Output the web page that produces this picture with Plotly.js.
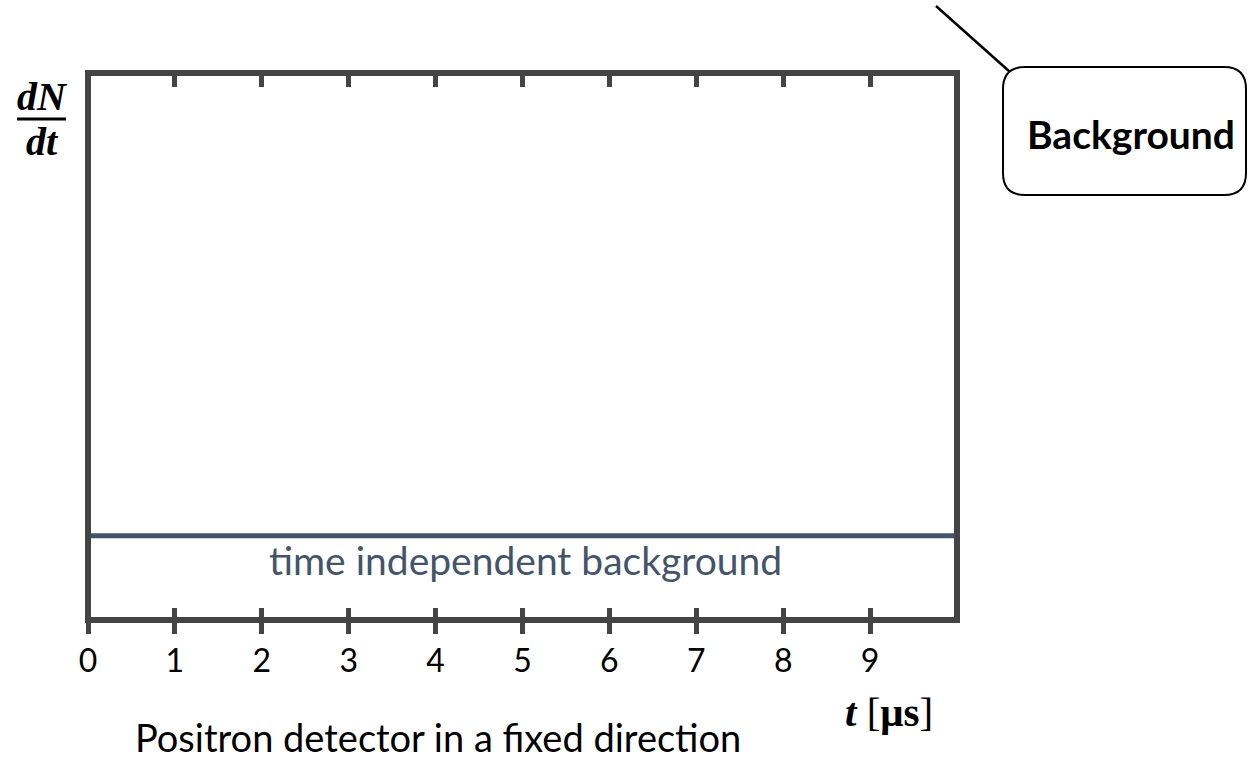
<!DOCTYPE html>
<html>
<head>
<meta charset="utf-8">
<script src="https://cdn.plot.ly/plotly-3.0.1.min.js"></script>
<style>html,body{margin:0;padding:0;background:#fff;}#chart{width:1248px;height:762px;}</style>
</head>
<body>
<div id="chart"></div>
<script>
// ---- data ----
const tickValues = [0, 1, 2, 3, 4, 5, 6, 7, 8, 9];
const tickLabels = ["0", "1", "2", "3", "4", "5", "6", "7", "8", "9"];
const timeRange = [0, 10];
const backgroundTime = [0, 10];
const backgroundLevel = [0.154, 0.154];
const backgroundLabel = "time independent background";
const xTitle = "<b><i>t</i></b> [<b>μs</b>]";
const yTitleTop = "<b><i>dN</i></b>";
const yTitleBottom = "<b><i>dt</i></b>";
const caption = "Positron detector in a fixed direction";
const calloutText = "<b>Background</b>";

// ---- layout helpers (pixel -> paper) ----
const W = 1248, H = 762;
const L = 88, R = 957, T = 73, B = 620;
const px = v => (v - L) / (R - L);
const py = v => (B - v) / (B - T);

function roundRect(x0, y0, x1, y1, r) {
  const a = px(x0), b = px(x1), c = py(y0), d = py(y1);
  const rx = r / (R - L), ry = r / (B - T);
  return `M ${a + rx},${c} L ${b - rx},${c} Q ${b},${c} ${b},${c - ry} L ${b},${d + ry} Q ${b},${d} ${b - rx},${d} L ${a + rx},${d} Q ${a},${d} ${a},${d + ry} L ${a},${c - ry} Q ${a},${c} ${a + rx},${c} Z`;
}

const frameColor = '#444444';
const bgColor = '#44546a';
const serif = '"Liberation Serif", "DejaVu Serif", serif';
const sans = 'Lato, "Open Sans", sans-serif';

const traces = [
  {
    x: backgroundTime, y: backgroundLevel, type: 'scatter', mode: 'lines',
    line: {color: bgColor, width: 5}, hoverinfo: 'skip', showlegend: false, cliponaxis: false
  },
  { x: timeRange, y: [0, 0], xaxis: 'x2', type: 'scatter', mode: 'none', hoverinfo: 'skip', showlegend: false },
  { x: timeRange, y: [0, 0], xaxis: 'x3', type: 'scatter', mode: 'none', hoverinfo: 'skip', showlegend: false }
];

const baseAxis = {
  range: timeRange, tickvals: tickValues, ticktext: tickLabels,
  showgrid: false, zeroline: false, fixedrange: true, showline: false
};

const layout = {
  width: W, height: H,
  margin: {l: L, r: W - R, t: T, b: H - B, pad: 0},
  paper_bgcolor: '#ffffff', plot_bgcolor: '#ffffff',
  font: {family: sans, color: '#000000'},
  showlegend: false,
  xaxis: Object.assign({}, baseAxis, {
    ticks: 'outside', ticklen: 13, tickwidth: 5, tickcolor: frameColor,
    tickfont: {size: 32, color: '#000000', family: sans}
  }),
  xaxis2: Object.assign({}, baseAxis, {
    overlaying: 'x', anchor: 'y', side: 'bottom',
    ticks: 'inside', ticklen: 12, tickwidth: 5, tickcolor: frameColor,
    showticklabels: false
  }),
  xaxis3: Object.assign({}, baseAxis, {
    overlaying: 'x', anchor: 'y', side: 'top',
    ticks: 'inside', ticklen: 14, tickwidth: 5, tickcolor: frameColor,
    showticklabels: false
  }),
  yaxis: {
    range: [0, 1], showgrid: false, zeroline: false, ticks: '', showticklabels: false,
    showline: false, fixedrange: true
  },
  annotations: [
    { x: 5.03, y: 0.11, xref: 'x', yref: 'y', text: backgroundLabel, showarrow: false,
      font: {size: 39, color: bgColor, family: sans}, xanchor: 'center', yanchor: 'middle' },
    { x: px(889), y: py(712), xref: 'paper', yref: 'paper', text: xTitle, showarrow: false,
      font: {size: 41, color: '#000000', family: serif}, xanchor: 'center', yanchor: 'middle' },
    { x: px(42), y: py(97), xref: 'paper', yref: 'paper', text: yTitleTop, showarrow: false,
      font: {size: 40, color: '#000000', family: serif}, xanchor: 'center', yanchor: 'middle' },
    { x: px(42), y: py(141), xref: 'paper', yref: 'paper', text: yTitleBottom, showarrow: false,
      font: {size: 40, color: '#000000', family: serif}, xanchor: 'center', yanchor: 'middle' },
    { x: px(133), y: py(762), xref: 'paper', yref: 'paper', text: caption, showarrow: false,
      font: {size: 38, color: '#000000', family: sans}, xanchor: 'left', yanchor: 'bottom' },
    { x: px(1131), y: py(134), xref: 'paper', yref: 'paper', text: calloutText, showarrow: false,
      font: {size: 39, color: '#000000', family: sans}, xanchor: 'center', yanchor: 'middle' }
  ],
  shapes: [
    { type: 'rect', xref: 'paper', yref: 'paper', x0: 0, x1: 1, y0: 0, y1: 1,
      line: {color: frameColor, width: 6}, fillcolor: 'rgba(0,0,0,0)', layer: 'above' },
    { type: 'line', xref: 'paper', yref: 'paper', x0: px(17), x1: px(66), y0: py(119), y1: py(119),
      line: {color: '#000000', width: 3} },
    { type: 'path', xref: 'paper', yref: 'paper', path: roundRect(1003, 67, 1246, 195, 22),
      line: {color: '#000000', width: 2}, fillcolor: 'rgba(0,0,0,0)' },
    { type: 'line', xref: 'paper', yref: 'paper', x0: px(936), y0: py(6), x1: px(1010), y1: py(72),
      line: {color: '#000000', width: 2.5} }
  ]
};

Plotly.newPlot('chart', traces, layout, {displayModeBar: false, staticPlot: true});
</script>
</body>
</html>
